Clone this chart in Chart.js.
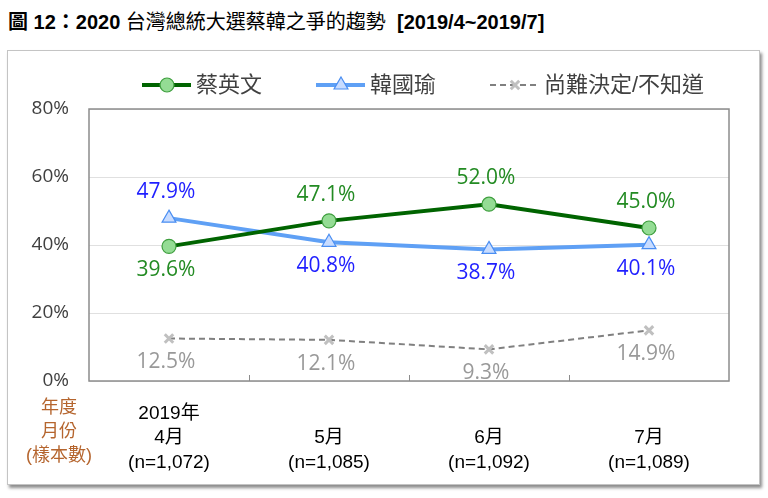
<!DOCTYPE html>
<html>
<head>
<meta charset="utf-8">
<script src="https://cdn.jsdelivr.net/npm/chart.js@4"></script>
<style>
  body { margin: 0; background: #fff; width: 768px; height: 498px; overflow: hidden; position: relative; }
  #title { position: absolute; left: 8px; top: 6px; font-size: 20px; color: #000; white-space: pre;
           font-family: "Liberation Sans", "Noto Sans CJK TC", sans-serif; }
  #title b { font-weight: bold; }
  #box { position: absolute; left: 7px; top: 50px; width: 751px; height: 433px;
         border: 1px solid #c4c4c4; box-shadow: 2px 3px 3px #8c8c8c; background: #fff; }
  #chart { position: absolute; left: 0; top: 0; }
</style>
</head>
<body>
<div id="title"><b>圖 12：2020</b> 台灣總統大選蔡韓之爭的趨勢  <b>[2019/4~2019/7]</b></div>
<div id="box"></div>
<canvas id="chart" width="768" height="498"></canvas>
<script>
// Data
const months = [['2019年', '4月', '(n=1,072)'], ['', '5月', '(n=1,085)'], ['', '6月', '(n=1,092)'], ['', '7月', '(n=1,089)']];
const tsai = [39.6, 47.1, 52.0, 45.0];
const han = [47.9, 40.8, 38.7, 40.1];
const undecided = [12.5, 12.1, 9.3, 14.9];
const rowTitles = ['年度', '月份', '(樣本數)'];
const seriesNames = ['蔡英文', '韓國瑜', '尚難決定/不知道'];

const numFont = "'Open Sans', 'Liberation Sans', sans-serif";
const cjkFont = "'Liberation Sans', 'Noto Sans CJK TC', sans-serif";

// value labels above / below each point
const valueLabels = {
    id: 'valueLabels',
    afterDatasetsDraw(chart) {
        const ctx = chart.ctx;
        ctx.save();
        ctx.font = '21px ' + numFont;
        ctx.textAlign = 'center';
        ctx.textBaseline = 'middle';
        chart.data.datasets.forEach((ds, i) => {
            const meta = chart.getDatasetMeta(i);
            meta.data.forEach((pt, j) => {
                const above = ds.labelSide[j] === 'up';
                ctx.fillStyle = ds.labelColor;
                ctx.fillText(ds.data[j].toFixed(1) + '%', pt.x - 3, pt.y + (above ? -26 : 24));
            });
        });
        ctx.restore();
    }
};

// plot frame, small x ticks, legend and row titles
const decorations = {
    id: 'decorations',
    beforeDatasetsDraw(chart) {
        const ctx = chart.ctx;
        const a = chart.chartArea;
        const x = chart.scales.x;
        ctx.save();
        ctx.strokeStyle = '#8c8c8c';
        ctx.lineWidth = 1.5;
        ctx.strokeRect(a.left, a.top, a.right - a.left, a.bottom - a.top);
        ctx.lineWidth = 1;
        for (let i = 1; i < months.length; i++) {
            const px = Math.round((x.getPixelForValue(i - 1) + x.getPixelForValue(i)) / 2) + 0.5;
            ctx.beginPath();
            ctx.moveTo(px, a.bottom);
            ctx.lineTo(px, a.bottom - 6);
            ctx.stroke();
        }
        ctx.restore();
    },
    afterDraw(chart) {
        const ctx = chart.ctx;
        ctx.save();
        // legend
        let lx = 142;
        const ly = 85;
        ctx.font = '22px ' + cjkFont;
        ctx.textBaseline = 'middle';
        chart.data.datasets.forEach((ds) => {
            ctx.strokeStyle = ds.borderColor;
            ctx.lineWidth = ds.borderWidth;
            ctx.setLineDash(ds.borderDash || []);
            ctx.beginPath();
            ctx.moveTo(lx, ly);
            ctx.lineTo(lx + 49, ly);
            ctx.stroke();
            ctx.setLineDash([]);
            ctx.fillStyle = ds.pointBackgroundColor;
            ctx.strokeStyle = ds.pointBorderColor;
            ctx.lineWidth = ds.pointBorderWidth;
            Chart.helpers.drawPoint(ctx, {
                pointStyle: ds.pointStyle,
                radius: ds.pointRadius,
                borderWidth: ds.pointBorderWidth
            }, lx + 25, ly);
            ctx.fillStyle = '#404040';
            ctx.textAlign = 'left';
            ctx.fillText(ds.label, lx + 54, ly + 1);
            lx += 54 + ctx.measureText(ds.label).width + 54;
        });
        // row titles on the left of the x labels
        ctx.font = '18px ' + cjkFont;
        ctx.fillStyle = '#b5652e';
        ctx.textAlign = 'center';
        rowTitles.forEach((t, i) => ctx.fillText(t, 59, 408 + i * 24));
        ctx.restore();
    }
};

new Chart(document.getElementById('chart'), {
    type: 'line',
    data: {
        labels: months,
        datasets: [{
            label: seriesNames[0],
            data: tsai,
            borderColor: '#006400',
            borderWidth: 4,
            pointStyle: 'circle',
            pointRadius: 7,
            pointBorderWidth: 1.2,
            pointBackgroundColor: '#94dc94',
            pointBorderColor: '#3f9f3f',
            labelColor: '#238b23',
            labelSide: ['down', 'up', 'up', 'up'],
            tension: 0
        }, {
            label: seriesNames[1],
            data: han,
            borderColor: '#5fa0f5',
            borderWidth: 4,
            pointStyle: 'triangle',
            pointRadius: 8,
            pointBorderWidth: 1.2,
            pointBackgroundColor: '#c8dcff',
            pointBorderColor: '#4a8ef2',
            labelColor: '#1f1fff',
            labelSide: ['up', 'down', 'down', 'down'],
            tension: 0
        }, {
            label: seriesNames[2],
            data: undecided,
            borderColor: '#808080',
            borderWidth: 2,
            borderDash: [6, 4],
            pointStyle: 'crossRot',
            pointRadius: 6,
            pointBorderWidth: 3,
            pointBackgroundColor: '#c0c0c0',
            pointBorderColor: '#c0c0c0',
            labelColor: '#999999',
            labelSide: ['down', 'down', 'down', 'down'],
            tension: 0
        }]
    },
    options: {
        responsive: false,
        animation: false,
        layout: { padding: { top: 109, right: 39, left: 0, bottom: 0 } },
        plugins: { legend: { display: false }, tooltip: { enabled: false } },
        scales: {
            x: {
                offset: true,
                grid: { display: false },
                border: { display: false },
                ticks: {
                    color: '#000',
                    font: { size: 19, family: cjkFont, lineHeight: 1.3 },
                    padding: 12,
                    maxRotation: 0
                },
                afterFit(scale) { scale.height = 117; }
            },
            y: {
                min: 0,
                max: 80,
                grid: { color: '#e0e0e0', drawTicks: false },
                border: { display: false },
                ticks: {
                    stepSize: 20,
                    color: '#404040',
                    padding: 20,
                    font: { size: 19, family: numFont },
                    callback: v => v + '%'
                },
                afterFit(scale) { scale.width = 89; }
            }
        }
    },
    plugins: [decorations, valueLabels]
});
</script>
</body>
</html>
